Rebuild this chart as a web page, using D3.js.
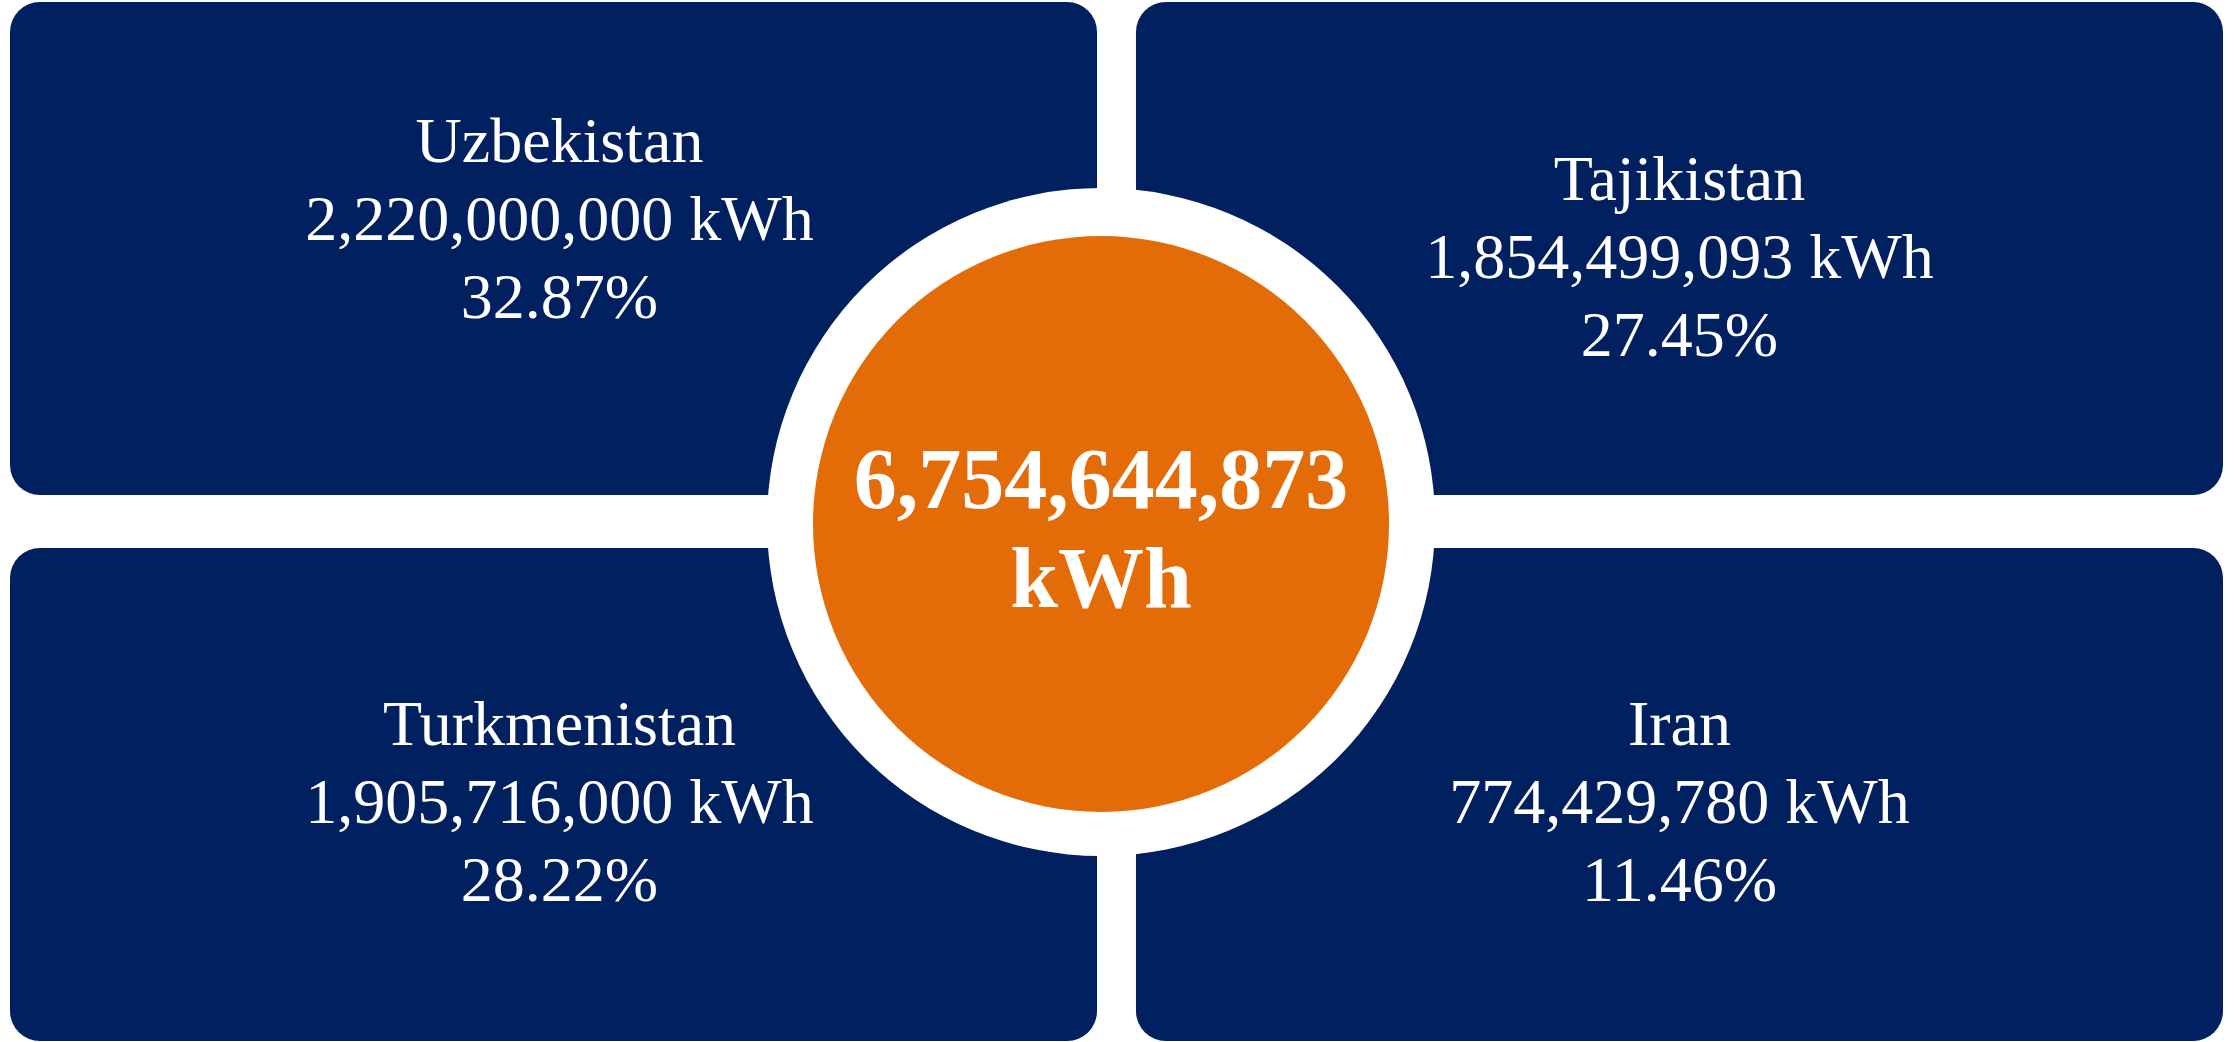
<!DOCTYPE html>
<html>
<head>
<meta charset="utf-8">
<script src="https://cdn.jsdelivr.net/npm/d3@7"></script>
<style>
  html, body { margin: 0; padding: 0; background: #ffffff; }
  svg { display: block; }
  text { font-family: "Liberation Serif", "Times New Roman", serif; fill: #ffffff; }
</style>
</head>
<body>
<svg id="chart"></svg>
<script>
// --- data ---
const countries = ["Uzbekistan", "Tajikistan", "Turkmenistan", "Iran"];
const energyKWh = [2220000000, 1854499093, 1905716000, 774429780];
const shares = ["32.87%", "27.45%", "28.22%", "11.46%"];
const totalKWh = 6754644873;
const unitLabel = "kWh";

// --- layout ---
const width = 2235;
const height = 1042;
const navy = "#002060";
const orange = "#E36C09";

// grid cell for each country (column, row), plus a small nudge for the text block
const cells = [
  { col: 0, row: 0, dx: 6, dy: -38 },
  { col: 1, row: 0, dx: 0, dy: 0 },
  { col: 0, row: 1, dx: 6, dy: 0 },
  { col: 1, row: 1, dx: 0, dy: 0 },
];

const xBand = d3.scaleBand().domain([0, 1]).range([10, 2223]).paddingInner(0.0346);
const yBand = d3.scaleBand().domain([0, 1]).range([2, 1041]).paddingInner(0.097);

const fmt = d3.format(",");

const svg = d3.select("#chart").attr("width", width).attr("height", height);

const boxes = svg
  .selectAll("g.box")
  .data(countries.map((c, i) => ({ name: c, value: energyKWh[i], share: shares[i], ...cells[i] })))
  .join("g")
  .attr("class", "box");

boxes
  .append("rect")
  .attr("x", (d) => xBand(d.col))
  .attr("y", (d) => yBand(d.row))
  .attr("width", xBand.bandwidth())
  .attr("height", yBand.bandwidth())
  .attr("rx", 30)
  .attr("fill", navy);

const fontSize = 64;
const lineGap = 78;

boxes.each(function (d) {
  const cx = xBand(d.col) + xBand.bandwidth() / 2 + d.dx;
  const cy = yBand(d.row) + yBand.bandwidth() / 2 + d.dy;
  const lines = [d.name, `${fmt(d.value)} ${unitLabel}`, d.share];
  d3.select(this)
    .selectAll("text")
    .data(lines)
    .join("text")
    .attr("x", cx)
    .attr("y", (t, i) => cy + 29 + (i - 1) * lineGap)
    .attr("text-anchor", "middle")
    .style("font-size", fontSize + "px")
    .text((t) => t);
});

// --- centre disc ---
const cx = 1101;
const cy = 522;

svg.append("circle").attr("cx", cx).attr("cy", cy).attr("r", 334).attr("fill", "#ffffff");
svg.append("circle").attr("cx", cx).attr("cy", cy + 2).attr("r", 288).attr("fill", orange);

const centreLines = [fmt(totalKWh), unitLabel];
svg
  .selectAll("text.total")
  .data(centreLines)
  .join("text")
  .attr("class", "total")
  .attr("x", cx)
  .attr("y", (t, i) => 508 + i * 99)
  .attr("text-anchor", "middle")
  .style("font-size", "86px")
  .style("font-weight", "bold")
  .text((t) => t);
</script>
</body>
</html>
